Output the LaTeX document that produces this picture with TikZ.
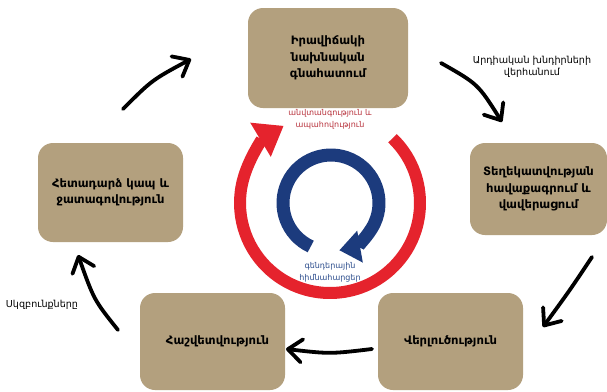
\documentclass[tikz,border=0pt]{standalone}
\usepackage{fontspec}
\setmainfont{DejaVu Sans}
\usetikzlibrary{arrows.meta}
\definecolor{boxtan}{HTML}{B3A07E}
\definecolor{ringred}{HTML}{E5232D}
\definecolor{ringblue}{HTML}{1C3B7D}
\definecolor{redtxt}{HTML}{B8323C}
\definecolor{bluetxt}{HTML}{2B4C8C}
\begin{document}
\begin{tikzpicture}[x=1pt,y=-1pt,
  box/.style={draw=none,fill=boxtan,rounded corners=15pt,inner sep=0pt,align=center,
    font=\bfseries\fontsize{11.6}{16.5}\selectfont},
  lbl/.style={align=center,font=\fontsize{9.6}{11.5}\selectfont},
  smalllbl/.style={align=center,font=\fontsize{8}{12}\selectfont},
  hand/.style={line width=3.8pt,line cap=round,black,
    -{Straight Barb[length=14pt,width=23pt,round]}},
  redring/.style={line width=12pt,ringred,-{Triangle[length=27pt,width=38pt]}},
  bluering/.style={line width=13pt,ringblue,-{Triangle[length=21pt,width=31pt]}}
]
\useasboundingbox (0,0) rectangle (607,391);
\fill[white] (0,0) rectangle (607,391);

% boxes
\node[box,minimum width=160pt,minimum height=100pt] (b1) at (328,58)
  {Իրավիճակի\\նախնական\\գնահատում};
\node[box,minimum width=137pt,minimum height=92pt] (b2) at (538.5,189)
  {Տեղեկատվության\\հավաքագրում և\\վավերացում};
\node[box,minimum width=145pt,minimum height=97pt] (b3) at (450.5,341.5)
  {Վերլուծություն};
\node[box,minimum width=145pt,minimum height=97pt] (b4) at (212.5,341.5)
  {\hspace*{10pt}Հաշվետվություն};
\node[box,minimum width=145pt,minimum height=99pt] (b5) at (110.5,192.5)
  {Հետադարձ կապ և\\ջատագովություն};

% central rings
\coordinate (rc) at (330,203);
\coordinate (bc) at (331,203);
\draw[redring] ([shift={(-46:90)}]rc) arc[start angle=-46,end angle=239,radius=90];
\draw[bluering] ([shift={(115:48)}]bc) arc[start angle=115,end angle=440,radius=48];

\node[smalllbl,text=redtxt] (rl) at (330,119) {անվտանգություն և\\ապահովություն};
\node[smalllbl,text=bluetxt] (bl) at (330,272) {գենդերային\\հիմնահարցեր};

% side labels
\node[lbl] (l1) at (532,67) {Արդիական խնդիրների\\վերհանում};
\node[lbl] (l2) at (42,305) {Սկզբունքները};

% hand drawn arrows
\coordinate (a1s) at (123,109); \coordinate (a1e) at (191,59);
\coordinate (a2s) at (441,63);  \coordinate (a2e) at (502,122);
\coordinate (a3s) at (592,257); \coordinate (a3e) at (543,327);
\coordinate (a4s) at (372,349); \coordinate (a4e) at (286,349);
\coordinate (a5s) at (118,330); \coordinate (a5e) at (78,255);
\draw[hand] (a1s) .. controls (152,80) .. (a1e);
\draw[hand] (a2s) .. controls (478,84) .. (a2e);
\draw[hand] (a3s) .. controls (570,290) .. (a3e);
\draw[hand] (a4s) .. controls (330,354) .. (a4e);
\draw[hand] (a5s) .. controls (94,300) .. (a5e);
\end{tikzpicture}
\end{document}
